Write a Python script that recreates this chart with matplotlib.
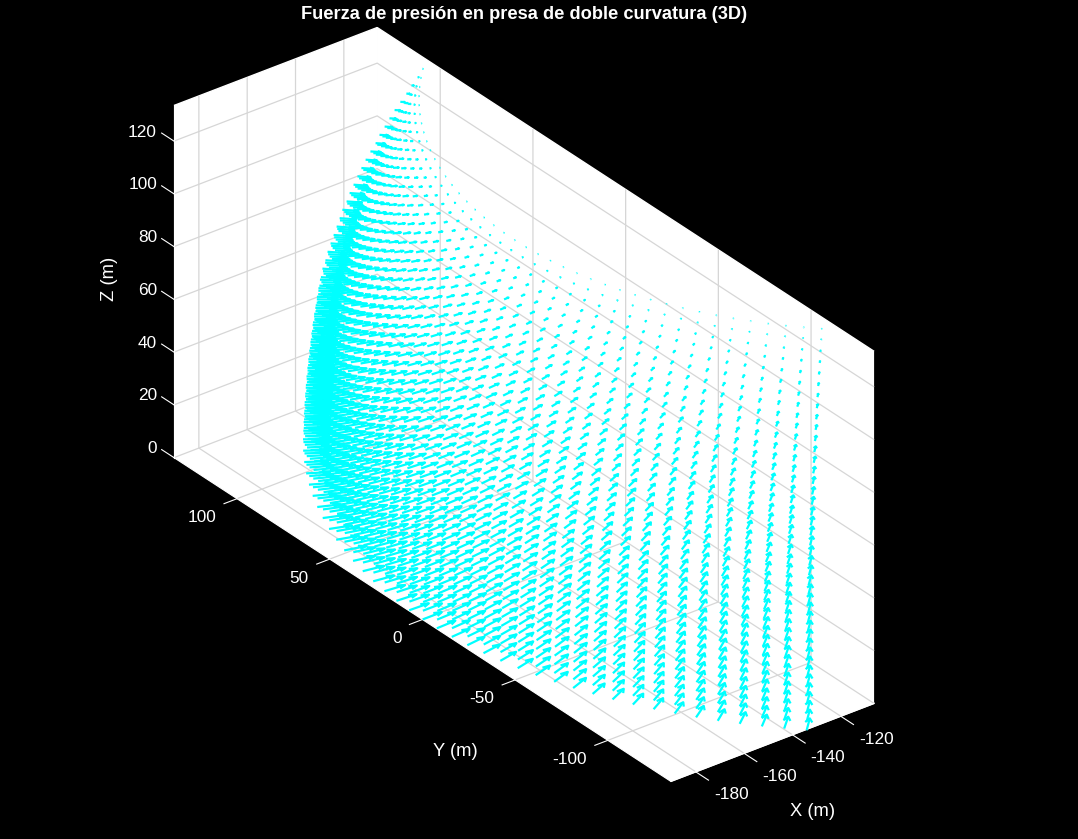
import numpy as np
import matplotlib
matplotlib.use('Agg')
import matplotlib.pyplot as plt
from mpl_toolkits.mplot3d import proj3d
from mpl_toolkits.mplot3d.art3d import Line3DCollection

# filas de la presa (z), radio de cada fila y fuerza de presion
z_levels = [0, 3.26, 6.52, 9.78, 13.04, 16.3, 19.56, 22.82, 26.08, 29.34, 32.6, 35.86,
            39.12, 42.38, 45.64, 48.9, 52.16, 55.42, 58.68, 61.94, 65.2, 68.46, 71.72,
            74.98, 78.24, 81.5, 84.76, 88.02, 91.28, 94.54, 97.8, 101.06, 104.32, 107.58,
            110.84, 114.1, 117.36, 120.62, 123.88, 127.14, 130.4]
radius = [190.2, 190.1, 190.0, 189.9, 189.7, 189.5, 189.3, 189.0, 188.7, 188.4, 188.0,
          187.7, 187.3, 186.8, 186.4, 185.9, 185.4, 184.4, 183.7, 182.7, 181.7, 180.7,
          179.7, 178.8, 177.4, 176.4, 175.1, 173.8, 172.5, 171.1, 169.5, 167.8, 166.5,
          164.8, 163.2, 161.5, 159.6, 157.6, 155.9, 153.9, 152.3]
force = [7.9, 7.9, 7.9, 7.9, 7.9, 7.85, 7.8, 7.75, 7.7, 7.6, 7.5, 7.4, 7.3, 7.15, 7.0,
         6.9, 6.7, 6.55, 6.4, 6.2, 6.0, 5.8, 5.6, 5.35, 5.1, 4.9, 4.6, 4.35, 4.1, 3.8,
         3.5, 3.2, 2.9, 2.55, 2.2, 1.9, 1.5, 1.15, 0.8, 0.4, 0.12]
theta_deg = [-45, -42.75, -40.5, -38.25, -36, -33.75, -31.5, -29.25, -27, -24.75, -22.5,
             -20.25, -18, -15.75, -13.5, -11.25, -9, -6.75, -4.5, -2.25, 0, 2.25, 4.5,
             6.75, 9, 11.25, 13.5, 15.75, 18, 20.25, 22.5, 24.75, 27, 29.25, 31.5, 33.75,
             36, 38.25, 40.5, 42.75, 45]

x_ticks = [-180, -160, -140, -120]
y_ticks = [-100, -50, 0, 50, 100]
z_ticks = [0, 20, 40, 60, 80, 100, 120]
x_lim = (-190.3, -106.2)
y_lim = (-134, 134)
z_lim = (0, 133.5)

CYAN = (0, 1, 1)
HEAD_ALPHA = 0.33
HEAD_BETA = 0.45
W_PX, H_PX = 1078, 839


def head_segments(x, y, z, u, v):
    # puntas de flecha en el plano horizontal, como quiver3
    a, b = HEAD_ALPHA, HEAD_BETA
    tx, ty = x + u, y + v
    p1 = np.column_stack([tx - a * (u + b * v), ty - a * (v - b * u), z])
    tip = np.column_stack([tx, ty, z])
    p3 = np.column_stack([tx - a * (u - b * v), ty - a * (v + b * u), z])
    return np.stack([p1, tip, p3], axis=1)


def tick_label(fig, ax, x, y, z, s, dx, dy, ha):
    # etiqueta de tick, a dx,dy pixeles de donde cae el tick en pantalla
    px, py, _ = proj3d.proj_transform(x, y, z, ax.get_proj())
    px, py = ax.transData.transform((px, py))
    fig.text((px + dx) / W_PX, (py + dy) / H_PX, s, color='white', fontsize=12.4,
             ha=ha, va='center')


def main():
    plt.rcParams['font.family'] = ['Liberation Sans', 'DejaVu Sans']
    plt.rcParams['grid.color'] = '#d6d6d6'
    plt.rcParams['grid.linewidth'] = 0.9

    fig = plt.figure(figsize=(W_PX / 100, H_PX / 100), dpi=100, facecolor='black')
    ax = fig.add_axes([93.2 / W_PX, 3.7 / H_PX, 839 / W_PX, 839 / H_PX],
                      projection='3d', proj_type='ortho', facecolor='black')

    th = np.radians(theta_deg)
    R = np.array(radius)[:, None]
    Z = np.array(z_levels)[:, None] * np.ones_like(th)
    F = np.array(force)[:, None]
    X = (-R * np.cos(th)).ravel()
    Y = (R * np.sin(th)).ravel()
    Z = Z.ravel()
    U = (F * np.cos(th)).ravel()
    V = (-F * np.sin(th)).ravel()

    ax.quiver(X, Y, Z, U, V, np.zeros_like(U), color=CYAN, linewidth=1.6,
              arrow_length_ratio=0)
    ax.add_collection3d(Line3DCollection(head_segments(X, Y, Z, U, V), colors=[CYAN],
                                         linewidths=1.6))

    ax.set_xlim(*x_lim, view_margin=0)
    ax.set_ylim(*y_lim, view_margin=0)
    ax.set_zlim(*z_lim, view_margin=0)
    ax.set_box_aspect((x_lim[1] - x_lim[0], y_lim[1] - y_lim[0], z_lim[1] - z_lim[0]),
                      zoom=1.096)
    ax.view_init(elev=30, azim=-127.5)

    ax.set_xticks(x_ticks)
    ax.set_yticks(y_ticks)
    ax.set_zticks(z_ticks)
    ax.set_xticklabels([])
    ax.set_yticklabels([])
    ax.set_zticklabels([])
    ax.tick_params(colors='white')
    for axis, tick_in, tick_out in ((ax.xaxis, 0.32, 0), (ax.yaxis, 0.8, 0), (ax.zaxis, 0, 0.31)):
        axis.set_pane_color('white')
        axis.pane.set_edgecolor('white')
        axis.line.set_color('white')
        axis._axinfo['tick']['inward_factor'] = tick_in
        axis._axinfo['tick']['outward_factor'] = tick_out
        axis._axinfo['tick']['linewidth'] = {True: 0.8, False: 0.8}
        axis._axinfo['tick']['color'] = 'white'
    ax.zaxis._get_tickdir = lambda pos: 1

    fig.canvas.draw()
    for v in x_ticks:
        tick_label(fig, ax, v, y_lim[0], 0, str(v), 18, -23, 'left')
    for v in y_ticks:
        tick_label(fig, ax, x_lim[0], v, 0, str(v), -21, -19, 'right')
    for v in z_ticks:
        tick_label(fig, ax, x_lim[0], y_lim[1], v, str(v), -17, 9, 'right')

    fig.text(524 / W_PX, 1 - 14.5 / H_PX, 'Fuerza de presión en presa de doble curvatura (3D)',
             color='white', fontweight='bold', fontsize=13.15, ha='center', va='center')
    fig.text(813 / W_PX, 1 - 812 / H_PX, 'X (m)', color='white', fontsize=13.2, ha='center', va='center')
    fig.text(455 / W_PX, 1 - 752 / H_PX, 'Y (m)', color='white', fontsize=13.2, ha='center', va='center')
    fig.text(110 / W_PX, 1 - 279 / H_PX, 'Z (m)', color='white', fontsize=13.2, ha='center', va='center',
             rotation=90)

    fig.savefig('out.png', dpi=100, facecolor='black')


if __name__ == '__main__':
    main()
